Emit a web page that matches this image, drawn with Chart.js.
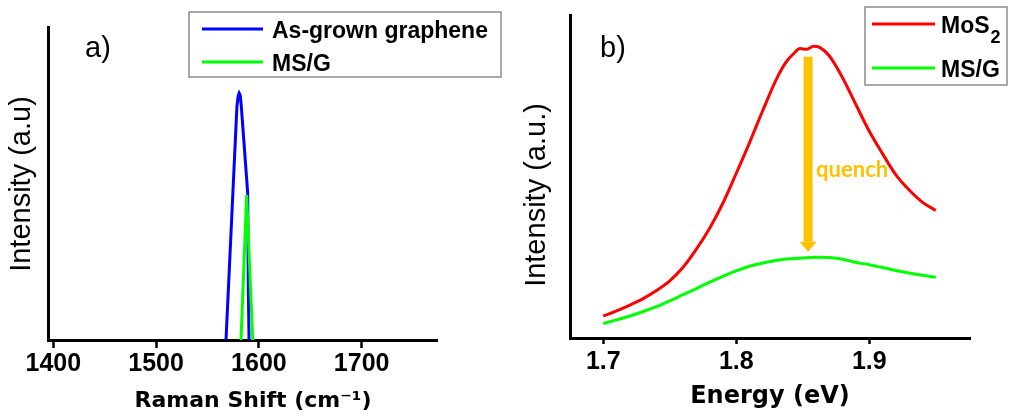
<!DOCTYPE html>
<html>
<head>
<meta charset="utf-8">
<script src="https://cdn.jsdelivr.net/npm/chart.js@4.4.1/dist/chart.umd.min.js"></script>
<style>
  html, body { margin: 0; padding: 0; background: #fff; width: 1009px; height: 417px; overflow: hidden; }
  #wrap { position: relative; width: 1009px; height: 417px; }
  canvas { position: absolute; top: 0; }
  #ramanCanvas { left: 0; }
  #plCanvas { left: 503px; }
</style>
</head>
<body>
<div id="wrap">
  <canvas id="ramanCanvas" width="503" height="417"></canvas>
  <canvas id="plCanvas" width="506" height="417"></canvas>
</div>
<script>
// ---- Panel a: Raman G band ----
const ramanTicks = [1400, 1500, 1600, 1700];
const grapheneShift = [1568, 1578.6, 1579.8, 1580.8, 1581.8, 1582.8, 1589.1, 1589.7, 1590.4];
const grapheneIntensity = [0, 0.745, 0.78, 0.789, 0.782, 0.75, 0.47, 0.17, 0];
const msgRamanShift = [1582.6, 1588.1, 1594.0];
const msgRamanIntensity = [0, 0.463, 0];

// ---- Panel b: photoluminescence ----
const energyTicks = [1.7, 1.8, 1.9];
const mos2Energy = [1.700, 1.710, 1.720, 1.730, 1.740, 1.750, 1.760, 1.770, 1.780, 1.790,
  1.800, 1.810, 1.820, 1.830, 1.837, 1.843, 1.848, 1.853, 1.858, 1.863, 1.870,
  1.880, 1.890, 1.900, 1.910, 1.920, 1.930, 1.940, 1.950];
const mos2Intensity = [0.068, 0.084, 0.102, 0.122, 0.147, 0.177, 0.219, 0.275, 0.340, 0.418,
  0.510, 0.605, 0.705, 0.800, 0.852, 0.880, 0.896, 0.894, 0.903, 0.899, 0.873,
  0.805, 0.722, 0.640, 0.570, 0.505, 0.458, 0.420, 0.395];
const msgEnergy = [1.700, 1.710, 1.720, 1.730, 1.740, 1.750, 1.760, 1.770, 1.780, 1.790,
  1.800, 1.810, 1.820, 1.830, 1.840, 1.850, 1.860, 1.870, 1.880, 1.890,
  1.900, 1.910, 1.920, 1.930, 1.940, 1.950];
const msgPL = [0.045, 0.056, 0.068, 0.082, 0.097, 0.115, 0.134, 0.153, 0.173, 0.191,
  0.208, 0.222, 0.232, 0.240, 0.245, 0.248, 0.250, 0.249, 0.244, 0.234,
  0.227, 0.218, 0.209, 0.201, 0.194, 0.188];

// quench arrow: energy position, start and end intensity, label height
const quenchEnergy = 1.854;
const quenchFrom = 0.871;
const quenchTo = 0.267;
const quenchLabelY = 0.52;

const pts = (xs, ys) => xs.map((x, i) => ({ x: x, y: ys[i] }));

const ARIAL = '"Liberation Sans", Arial, sans-serif';
const WIDE = '"DejaVu Sans", Verdana, sans-serif';
const ORANGE = '#ffc000';

// Panel letter, boxed legend, axis titles and the quench arrow
const panelDecor = {
  id: 'panelDecor',
  afterDraw(chart, args, o) {
    const ctx = chart.ctx;
    ctx.save();
    ctx.fillStyle = '#000';
    ctx.textBaseline = 'alphabetic';

    // panel letter
    ctx.font = '29px ' + ARIAL;
    ctx.textAlign = 'left';
    ctx.fillText(o.letter.text, o.letter.x, o.letter.y);

    // x title
    ctx.font = 'bold ' + o.xTitle.size + 'px ' + WIDE;
    ctx.textAlign = 'center';
    ctx.fillText(o.xTitle.text, o.xTitle.x, o.xTitle.y);

    // y title (rotated)
    ctx.save();
    ctx.translate(o.yTitle.x, o.yTitle.y);
    ctx.rotate(-Math.PI / 2);
    ctx.font = '29px ' + ARIAL;
    ctx.textAlign = 'center';
    ctx.textBaseline = 'middle';
    ctx.fillText(o.yTitle.text, 0, 0);
    ctx.restore();

    // legend
    const lg = o.legend;
    ctx.fillStyle = '#fff';
    ctx.fillRect(lg.box[0], lg.box[1], lg.box[2] - lg.box[0], lg.box[3] - lg.box[1]);
    ctx.strokeStyle = '#8c8c8c';
    ctx.lineWidth = 1.5;
    ctx.strokeRect(lg.box[0], lg.box[1], lg.box[2] - lg.box[0], lg.box[3] - lg.box[1]);
    chart.data.datasets.forEach((ds, i) => {
      const y = lg.rows[i];
      ctx.strokeStyle = ds.borderColor;
      ctx.lineWidth = 3;
      ctx.beginPath();
      ctx.moveTo(lg.line[0], y);
      ctx.lineTo(lg.line[1], y);
      ctx.stroke();
      ctx.fillStyle = '#000';
      ctx.textAlign = 'left';
      ctx.textBaseline = 'alphabetic';
      ctx.font = 'bold 23px ' + ARIAL;
      const m = ds.label.match(/^(.*?[A-Za-z])(\d+)$/);
      if (m) {
        ctx.fillText(m[1], lg.textX, y + 8.5);
        const w = ctx.measureText(m[1]).width;
        ctx.font = 'bold 18px ' + ARIAL;
        ctx.fillText(m[2], lg.textX + w + 1, y + 18.5);
      } else {
        ctx.fillText(ds.label, lg.textX, y + 8.5);
      }
    });

    // arrow
    if (o.arrow) {
      const xs = chart.scales.x, ys = chart.scales.y;
      const ax = xs.getPixelForValue(o.arrow.x);
      const y0 = ys.getPixelForValue(o.arrow.from);
      const y1 = ys.getPixelForValue(o.arrow.to);
      const head = 10;
      ctx.fillStyle = ORANGE;
      ctx.fillRect(ax - 4.5, y0, 9, y1 - head - y0);
      ctx.beginPath();
      ctx.moveTo(ax - 8.5, y1 - head);
      ctx.lineTo(ax + 8.5, y1 - head);
      ctx.lineTo(ax, y1);
      ctx.closePath();
      ctx.fill();
      ctx.font = 'bold 22px Lato, "Open Sans", sans-serif';
      ctx.textAlign = 'left';
      ctx.textBaseline = 'middle';
      ctx.fillText(o.arrow.label, ax + 8, ys.getPixelForValue(o.arrow.labelY));
    }
    ctx.restore();
  }
};

function xScale(min, max, ticks, fmt, tickLen, tickPad) {
  return {
    type: 'linear', min: min, max: max,
    afterBuildTicks: s => { s.ticks = ticks.map(v => ({ value: v })); },
    ticks: {
      font: { family: ARIAL, size: 25, weight: 'bold' }, color: '#000',
      padding: tickPad, maxRotation: 0, autoSkip: false, includeBounds: false,
      callback: fmt
    },
    grid: { display: true, drawOnChartArea: false, drawTicks: true, tickLength: tickLen,
            tickWidth: 2.5, tickColor: '#000', color: '#000' },
    border: { display: true, color: '#000', width: 3 }
  };
}

function yScale(w) {
  return {
    min: 0, max: 1,
    afterFit: s => { s.width = w; },
    ticks: { display: false },
    grid: { display: false, drawTicks: false },
    border: { display: true, color: '#000', width: 3 }
  };
}

// Panel a
const xa = xScale(1394.8, 1773.3, ramanTicks, v => String(v), 8, 1);
xa.afterFit = s => { s.height = 77; };
new Chart(document.getElementById('ramanCanvas'), {
  type: 'line',
  data: {
    datasets: [
      { label: 'As-grown graphene', data: pts(grapheneShift, grapheneIntensity),
        borderColor: '#0000ff', borderWidth: 3, pointRadius: 0, tension: 0, order: 1 },
      { label: 'MS/G', data: pts(msgRamanShift, msgRamanIntensity),
        borderColor: '#00ff00', borderWidth: 3, pointRadius: 0, tension: 0, order: 0 }
    ]
  },
  options: {
    responsive: false, animation: false, events: [],
    layout: { padding: { top: 27, right: 66, left: 0, bottom: 0 } },
    plugins: {
      legend: { display: false }, tooltip: { enabled: false },
      panelDecor: {
        letter: { text: 'a)', x: 85, y: 57 },
        xTitle: { text: 'Raman Shift (cm\u207B\u00B9)', x: 253, y: 407, size: 22 },
        yTitle: { text: 'Intensity (a.u)', x: 22, y: 184 },
        legend: { box: [189, 12, 501, 77], line: [202, 263], rows: [29, 62], textX: 272 }
      }
    },
    scales: { x: xa, y: yScale(48) }
  },
  plugins: [panelDecor]
});

// Panel b
const xb = xScale(1.675, 1.9757, energyTicks, v => Number(v).toFixed(1), 6, 3.5);
xb.afterFit = s => { s.height = 79; };
new Chart(document.getElementById('plCanvas'), {
  type: 'line',
  data: {
    datasets: [
      { label: 'MoS2', data: pts(mos2Energy, mos2Intensity),
        borderColor: '#ff0000', borderWidth: 3, pointRadius: 0, cubicInterpolationMode: 'monotone' },
      { label: 'MS/G', data: pts(msgEnergy, msgPL),
        borderColor: '#00ff00', borderWidth: 3, pointRadius: 0, cubicInterpolationMode: 'monotone' }
    ]
  },
  options: {
    responsive: false, animation: false, events: [],
    layout: { padding: { top: 15, right: 39, left: 0, bottom: 0 } },
    plugins: {
      legend: { display: false }, tooltip: { enabled: false },
      panelDecor: {
        letter: { text: 'b)', x: 97, y: 57 },
        xTitle: { text: 'Energy (eV)', x: 267, y: 403, size: 24 },
        yTitle: { text: 'Intensity (a.u.)', x: 34, y: 195 },
        legend: { box: [362, 7, 504, 85], line: [369, 432], rows: [24, 68], textX: 438 },
        arrow: { x: quenchEnergy, from: quenchFrom, to: quenchTo, labelY: quenchLabelY, label: 'quench' }
      }
    },
    scales: { x: xb, y: yScale(67) }
  },
  plugins: [panelDecor]
});
</script>
</body>
</html>
